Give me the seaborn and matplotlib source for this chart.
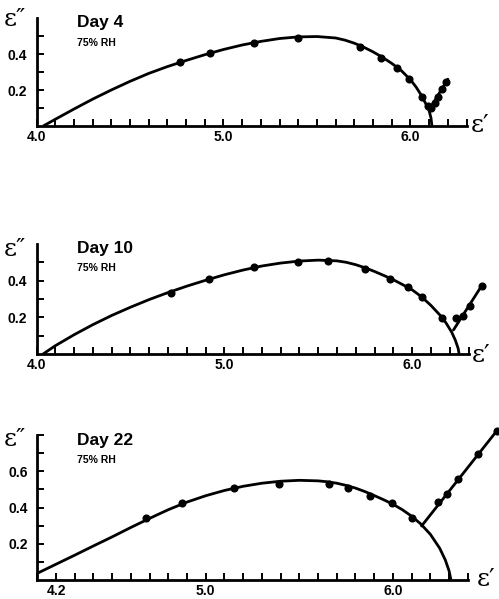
import matplotlib
matplotlib.use("Agg")
import matplotlib.pyplot as plt
import seaborn as sns
import pandas as pd
from matplotlib.ticker import FixedLocator, FixedFormatter

sns.set_style("ticks")
plt.rcParams['font.family'] = ['Liberation Sans', 'DejaVu Sans']
plt.rcParams['text.color'] = 'black'

# ---------------- data ----------------
titles = ["Day 4", "Day 10", "Day 22"]
subtitle = "75% RH"

# Day 4
d4_pts_x = [4.77, 4.93, 5.165, 5.40, 5.73, 5.84, 5.93, 5.99, 6.06, 6.095]
d4_pts_y = [0.355, 0.405, 0.46, 0.487, 0.44, 0.38, 0.325, 0.26, 0.16, 0.11]
d4_spur_pts_x = [6.11, 6.13, 6.15, 6.17, 6.19]
d4_spur_pts_y = [0.098, 0.126, 0.163, 0.204, 0.246]
d4_arc_x = [4.036, 4.10, 4.20, 4.30, 4.40, 4.50, 4.60, 4.70, 4.80, 4.90, 5.00, 5.10,
            5.20, 5.30, 5.40, 5.50, 5.60, 5.65, 5.70, 5.75, 5.80, 5.85, 5.90, 5.95,
            6.00, 6.03, 6.06, 6.08, 6.10, 6.11, 6.115]
d4_arc_y = [0.0, 0.037, 0.094, 0.149, 0.200, 0.248, 0.292, 0.330, 0.364, 0.396, 0.425, 0.450,
            0.470, 0.486, 0.495, 0.497, 0.489, 0.477, 0.460, 0.438, 0.412, 0.382, 0.348, 0.309,
            0.257, 0.217, 0.168, 0.128, 0.085, 0.045, 0.0]
d4_spur_x = [6.10, 6.20]
d4_spur_y = [0.09, 0.26]

# Day 10
d10_pts_x = [4.715, 4.92, 5.16, 5.39, 5.55, 5.75, 5.88, 5.98, 6.05, 6.16]
d10_pts_y = [0.335, 0.408, 0.477, 0.50, 0.508, 0.464, 0.41, 0.365, 0.31, 0.195]
d10_spur_pts_x = [6.235, 6.27, 6.31, 6.37]
d10_spur_pts_y = [0.195, 0.21, 0.26, 0.37]
d10_arc_x = [4.035, 4.10, 4.20, 4.30, 4.40, 4.50, 4.60, 4.70, 4.80, 4.90, 5.00, 5.10,
             5.20, 5.30, 5.40, 5.50, 5.60, 5.65, 5.70, 5.75, 5.80, 5.85, 5.90, 5.95,
             6.00, 6.05, 6.10, 6.15, 6.18, 6.21, 6.23, 6.245, 6.25]
d10_arc_y = [0.0, 0.045, 0.105, 0.160, 0.210, 0.255, 0.297, 0.335, 0.370, 0.402, 0.432, 0.458,
             0.480, 0.496, 0.507, 0.512, 0.508, 0.500, 0.487, 0.470, 0.450, 0.428, 0.405, 0.378,
             0.350, 0.312, 0.265, 0.210, 0.170, 0.120, 0.075, 0.030, 0.0]
d10_spur_x = [6.22, 6.37]
d10_spur_y = [0.131, 0.372]

# Day 22
d22_pts_x = [4.68, 4.875, 5.15, 5.39, 5.66, 5.76, 5.88, 5.995, 6.10]
d22_pts_y = [0.34, 0.427, 0.507, 0.53, 0.53, 0.51, 0.466, 0.424, 0.34]
d22_spur_pts_x = [6.24, 6.287, 6.35, 6.455, 6.555]
d22_spur_pts_y = [0.43, 0.473, 0.556, 0.695, 0.82]
d22_arc_x = [4.10, 4.20, 4.30, 4.40, 4.50, 4.60, 4.70, 4.80, 4.90, 5.00, 5.10, 5.20,
             5.30, 5.40, 5.50, 5.60, 5.65, 5.70, 5.75, 5.80, 5.85, 5.90, 5.95, 6.00,
             6.05, 6.10, 6.15, 6.20, 6.25, 6.28, 6.30, 6.31]
d22_arc_y = [0.037, 0.087, 0.137, 0.188, 0.238, 0.290, 0.340, 0.388, 0.430, 0.465, 0.494, 0.517,
             0.534, 0.545, 0.550, 0.547, 0.542, 0.534, 0.522, 0.507, 0.488, 0.466, 0.443, 0.418,
             0.388, 0.352, 0.308, 0.252, 0.175, 0.110, 0.050, 0.0]
d22_spur_x = [6.153, 6.555]
d22_spur_y = [0.298, 0.823]

x_label_ticks = [[4.0, 5.0, 6.0], [4.0, 5.0, 6.0], [4.2, 5.0, 6.0]]
x_label_text = [["4.0", "5.0", "6.0"], ["4.0", "5.0", "6.0"], ["4.2", "5.0", "6.0"]]
y_label_ticks = [[0.2, 0.4], [0.2, 0.4], [0.2, 0.4, 0.6]]
y_label_text = [["0.2", "0.4"], ["0.2", "0.4"], ["0.2", "0.4", "0.6"]]
x_minor = [[round(4.0 + 0.1 * i, 1) for i in range(24)],
           [round(4.0 + 0.1 * i, 1) for i in range(24)],
           [round(4.1 + 0.1 * i, 1) for i in range(24)]]
y_minor = [[0.1, 0.3, 0.5], [0.1, 0.3, 0.5], [0.1, 0.3, 0.5, 0.7, 0.8]]

# ---------------- layout ----------------
W, H = 499, 599
fig = plt.figure(figsize=(W / 100, H / 100), dpi=100)

def ax_rect(left, bottom, width, height):
    return [left / W, (H - bottom) / H, width / W, height / H]

axes = [
    fig.add_axes(ax_rect(36.5, 126, 430, 108)),
    fig.add_axes(ax_rect(36.5, 354, 432, 110)),
    fig.add_axes(ax_rect(37.3, 580, 430.5, 145)),
]
limits = [((4.0, 6.3), (0, 0.6)), ((4.0, 6.3), (0, 0.6)), ((4.1, 6.4), (0, 0.8))]

panels = [
    (d4_arc_x, d4_arc_y, d4_spur_x, d4_spur_y, d4_pts_x, d4_pts_y, d4_spur_pts_x, d4_spur_pts_y),
    (d10_arc_x, d10_arc_y, d10_spur_x, d10_spur_y, d10_pts_x, d10_pts_y, d10_spur_pts_x, d10_spur_pts_y),
    (d22_arc_x, d22_arc_y, d22_spur_x, d22_spur_y, d22_pts_x, d22_pts_y, d22_spur_pts_x, d22_spur_pts_y),
]

for i, ax in enumerate(axes):
    ax_x, ax_y, sp_x, sp_y, px, py, spx, spy = panels[i]
    arc = pd.DataFrame({"x": ax_x, "y": ax_y})
    spur = pd.DataFrame({"x": sp_x, "y": sp_y})
    pts = pd.DataFrame({"x": px + spx, "y": py + spy})
    sns.lineplot(data=arc, x="x", y="y", ax=ax, color="black", lw=2.0,
                 sort=False, estimator=None, clip_on=False,
                 solid_joinstyle="round", solid_capstyle="butt")
    sns.lineplot(data=spur, x="x", y="y", ax=ax, color="black", lw=2.0,
                 sort=False, estimator=None, clip_on=False)
    sns.scatterplot(data=pts, x="x", y="y", ax=ax, color="black", s=34,
                    edgecolor="black", linewidth=0, clip_on=False, zorder=5)
    (x0, x1), (y0, y1) = limits[i]
    ax.set_xlim(x0, x1)
    ax.set_ylim(y0, y1)
    ax.set_xlabel("")
    ax.set_ylabel("")
    for s in ("top", "right"):
        ax.spines[s].set_visible(False)
    for s in ("left", "bottom"):
        ax.spines[s].set_linewidth(2.0)
        ax.spines[s].set_color("black")
    ax.xaxis.set_major_locator(FixedLocator(x_label_ticks[i]))
    ax.xaxis.set_major_formatter(FixedFormatter(x_label_text[i]))
    ax.xaxis.set_minor_locator(FixedLocator(x_minor[i]))
    ax.yaxis.set_major_locator(FixedLocator(y_label_ticks[i]))
    ax.yaxis.set_major_formatter(FixedFormatter(y_label_text[i]))
    ax.yaxis.set_minor_locator(FixedLocator(y_minor[i]))
    ax.tick_params(which="both", direction="in", length=5, width=1.4, color="black")
    ax.tick_params(axis="x", which="major", pad=3)
    ax.tick_params(axis="y", which="major", pad=7)
    for lab in ax.get_xticklabels() + ax.get_yticklabels():
        lab.set_fontweight("bold")
        lab.set_fontsize(10)
        lab.set_color("black")
    ax.patch.set_alpha(0)

def ftext(x, y, s, **kw):
    fig.text(x / W, 1 - y / H, s, color="black", **kw)

# panel titles
title_y = [23, 249, 441]
sub_y = [43, 268, 460]
eps2_y = [19, 250, 440]
eps1 = [(471, 125), (472, 355), (477, 580)]
for i in range(3):
    ftext(77, title_y[i], titles[i], fontsize=12.5, fontweight="bold", va="center", ha="left")
    ftext(77, sub_y[i], subtitle, fontsize=7.5, fontweight="bold", va="center", ha="left")
    ftext(4, eps2_y[i], "ε″", fontsize=18, family=["DejaVu Serif"], va="center", ha="left")
    ftext(eps1[i][0], eps1[i][1], "ε′", fontsize=18, family=["DejaVu Serif"], va="center", ha="left")

fig.savefig("out.png", dpi=100)
